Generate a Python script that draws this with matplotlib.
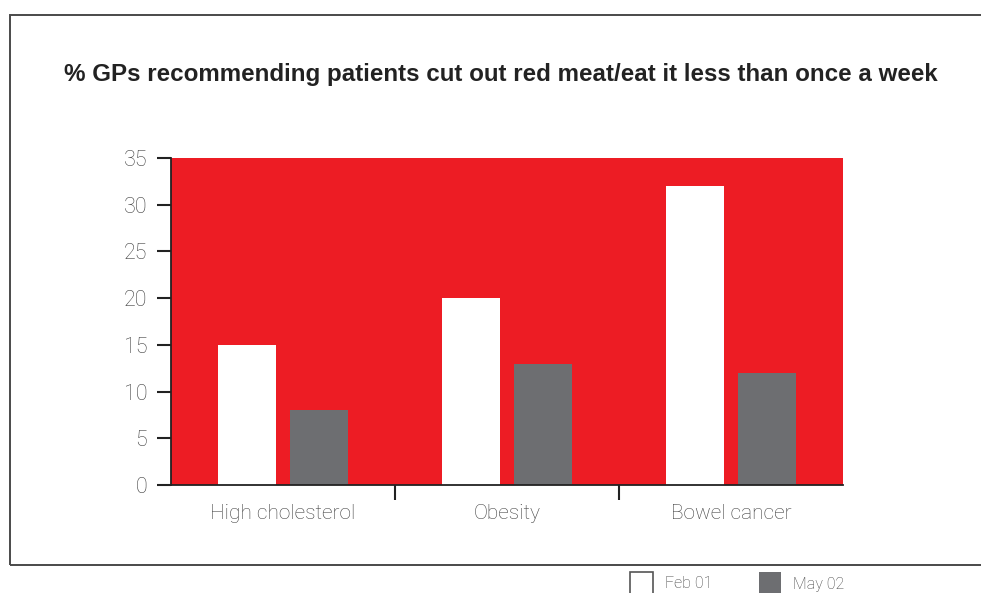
import matplotlib.pyplot as plt
from matplotlib.patches import Rectangle
import numpy as np

categories = ["High cholesterol", "Obesity", "Bowel cancer"]
feb01 = [15, 20, 32]
may02 = [8, 13, 12]
series_names = ["Feb 01", "May 02"]
y_ticks = [0, 5, 10, 15, 20, 25, 30, 35]

plt.rcParams["font.family"] = ["Liberation Sans", "DejaVu Sans"]

RED = "#ed1c24"
GREY = "#6d6e71"
TEXT = "#3f3f3f"
LIGHT = dict(family=["Roboto", "DejaVu Sans"], fontweight="light")

fig = plt.figure(figsize=(9.81, 5.93), dpi=100)
W, H = 981, 593


def fx(px):
    return px / W


def fy(py):
    return 1 - py / H


# Outer frame (runs off the right edge)
fig.patches.append(Rectangle((fx(10), fy(565)), fx(1000), fy(15) - fy(565),
                             transform=fig.transFigure, fill=False,
                             edgecolor="#4a4a4a", linewidth=1.4, zorder=0))

fig.text(fx(64), fy(74), "% GPs recommending patients cut out red meat/eat it less than once a week",
         fontsize=17.4, fontweight="bold", color="#222222", ha="left", va="center")

ax = fig.add_axes([fx(171), fy(485), fx(843) - fx(171), fy(158) - fy(485)])
ax.set_facecolor(RED)

x = np.arange(len(categories))
width = 0.26
ax.bar(x - 0.16, feb01, width, color="white", zorder=2)
ax.bar(x + 0.16, may02, width, color=GREY, zorder=2)

ax.set_xlim(-0.5, 2.5)
ax.set_ylim(0, 35)

for side in ["top", "right"]:
    ax.spines[side].set_visible(False)
ax.spines["left"].set_color("#222222")
ax.spines["bottom"].set_color("#222222")
ax.spines["left"].set_linewidth(1.3)
ax.spines["bottom"].set_linewidth(1.3)

ax.set_yticks(y_ticks)
ax.set_yticklabels([str(t) for t in y_ticks], fontsize=15.5, color=TEXT, **LIGHT)
ax.tick_params(axis="y", length=10, width=1.5, color="#222222", pad=7)

# separators between categories as major ticks, names as minor labels
ax.set_xticks([0.5, 1.5])
ax.set_xticklabels([])
ax.tick_params(axis="x", which="major", length=11, width=1.5, color="#222222")
ax.set_xticks(x, minor=True)
ax.set_xticklabels(categories, minor=True, fontsize=15, color=TEXT, **LIGHT)
ax.tick_params(axis="x", which="minor", length=0, pad=14)

# Legend below the frame
fig.patches.append(Rectangle((fx(630), fy(596)), fx(23), fy(572) - fy(596),
                             transform=fig.transFigure, facecolor="white",
                             edgecolor="#555555", linewidth=1.2))
fig.text(fx(665), fy(584), series_names[0], fontsize=11.5, color=TEXT, va="center", **LIGHT)
fig.patches.append(Rectangle((fx(759), fy(596)), fx(22), fy(572) - fy(596),
                             transform=fig.transFigure, facecolor=GREY,
                             edgecolor="none"))
fig.text(fx(793), fy(584), series_names[1], fontsize=11.5, color=TEXT, va="center", **LIGHT)

fig.savefig("out.png", dpi=100)
